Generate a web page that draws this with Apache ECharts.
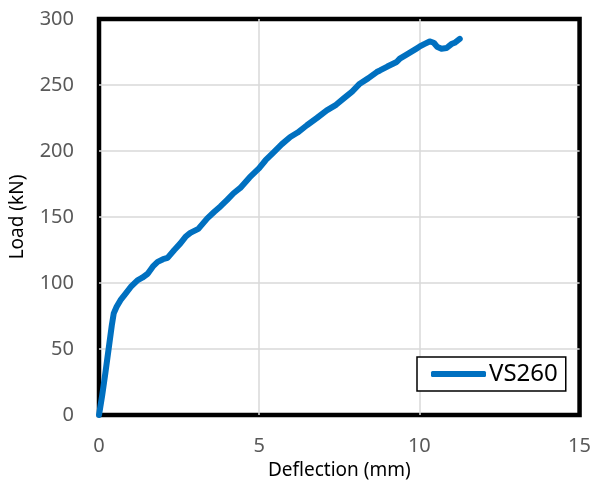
<!DOCTYPE html>
<html>
<head>
<meta charset="utf-8">
<script src="https://cdn.jsdelivr.net/npm/echarts@6/dist/echarts.min.js"></script>
<style>
html,body{margin:0;padding:0;background:#fff;}
#chart{width:594px;height:486px;}
</style>
</head>
<body>
<div id="chart"></div>
<script>
// Data
var seriesName = 'VS260';
var deflection = [0, 0.1, 0.2, 0.3, 0.4, 0.46, 0.55, 0.67, 0.8, 0.99, 1.2, 1.35, 1.52, 1.7, 1.83, 2.0, 2.14, 2.35, 2.54, 2.7, 2.85, 3.1, 3.38, 3.6, 3.79, 4.0, 4.2, 4.41, 4.7, 5.0, 5.2, 5.45, 5.7, 5.97, 6.2, 6.49, 6.8, 7.11, 7.4, 7.63, 7.9, 8.14, 8.4, 8.67, 8.77, 9.0, 9.29, 9.39, 9.6, 9.91, 10.0, 10.15, 10.32, 10.45, 10.55, 10.69, 10.85, 11.0, 11.1, 11.26];
var load = [0, 15, 32, 50, 68, 77, 82, 87, 91, 97, 102, 104, 107, 113, 116, 118, 119, 125, 130, 135, 138, 141, 149, 154, 158, 163, 168, 172, 180, 187, 193, 199, 205, 210.6, 214, 219.5, 225, 230.8, 235, 239.7, 245, 251, 255, 259.8, 261, 264, 267.4, 270, 273, 277.6, 279, 281, 283, 282, 279, 277.5, 278, 281, 282, 285];
var xTicks = [0, 5, 10, 15];
var yTicks = [0, 50, 100, 150, 200, 250, 300];

var data = deflection.map(function (d, i) { return [d, load[i]]; });

var chart = echarts.init(document.getElementById('chart'), null, {renderer: 'canvas'});
var font = 'Noto Sans';
chart.setOption({
  animation: false,
  backgroundColor: '#ffffff',
  grid: {
    left: 98, right: 14, top: 19, bottom: 71,
    show: true, borderColor: '#000000', borderWidth: 4.5, backgroundColor: 'transparent'
  },
  legend: {
    show: true,
    left: 417, top: 357,
    orient: 'horizontal',
    backgroundColor: '#ffffff',
    borderColor: '#000000', borderWidth: 1.5, borderRadius: 0,
    padding: [5, 8, 5, 14],
    icon: 'roundRect',
    itemWidth: 55, itemHeight: 6,
    textStyle: {fontFamily: font, fontSize: 24, color: '#000000', padding: [0, 0, 0, -2]},
    data: [{name: seriesName, itemStyle: {color: '#0070C0'}}]
  },
  xAxis: {
    type: 'value',
    min: xTicks[0], max: xTicks[xTicks.length - 1], interval: 5,
    name: 'Deflection (mm)', nameLocation: 'middle', nameGap: 41,
    nameTextStyle: {fontFamily: font, fontSize: 19, color: '#000000'},
    axisLine: {show: false},
    axisTick: {show: false},
    axisLabel: {fontFamily: font, fontSize: 20, color: '#595959', margin: 21},
    splitLine: {show: true, showMinLine: false, showMaxLine: false, lineStyle: {color: '#d9d9d9', width: 1.5}}
  },
  yAxis: {
    type: 'value',
    min: yTicks[0], max: yTicks[yTicks.length - 1], interval: 50,
    name: 'Load (kN)', nameLocation: 'middle', nameGap: 72,
    nameTextStyle: {fontFamily: font, fontSize: 19, color: '#000000'},
    axisLine: {show: false},
    axisTick: {show: false},
    axisLabel: {fontFamily: font, fontSize: 20, color: '#595959', margin: 25},
    splitLine: {show: true, showMinLine: false, showMaxLine: false, lineStyle: {color: '#d9d9d9', width: 1.5}}
  },
  series: [{
    name: seriesName,
    type: 'line',
    data: data,
    symbol: 'none',
    smooth: false,
    lineStyle: {color: '#0070C0', width: 6, cap: 'round', join: 'round'},
    itemStyle: {color: '#0070C0'},
    z: 3
  }]
});
</script>
</body>
</html>
